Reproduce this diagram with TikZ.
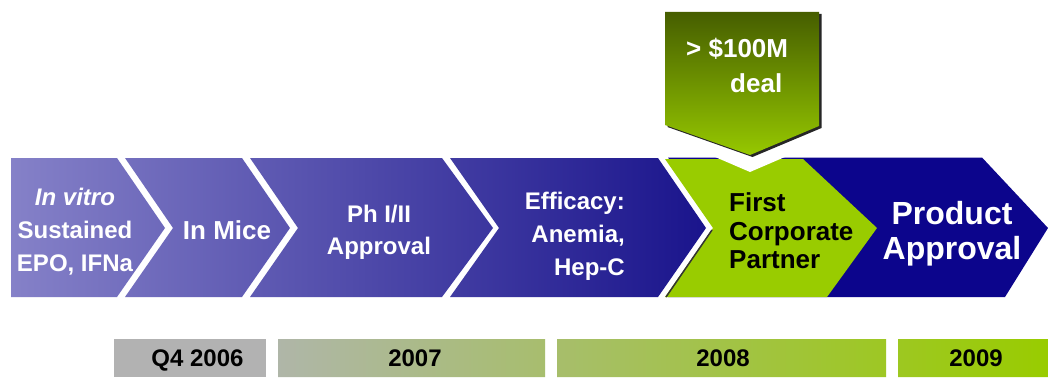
\documentclass[tikz,border=0pt]{standalone}
\usepackage{fontspec}
\setmainfont{Liberation Sans}
\usepackage{xcolor}
\usepackage{tikz}

\definecolor{lavender}{RGB}{133,129,200}
\definecolor{midpurple}{RGB}{100,96,178}
\definecolor{deepblue}{RGB}{26,20,140}
\definecolor{navy}{RGB}{12,5,140}
\definecolor{lime}{RGB}{153,204,0}
\definecolor{olive}{RGB}{70,94,0}
\definecolor{brightolive}{RGB}{150,200,0}
\definecolor{yeargray}{RGB}{178,178,178}
\definecolor{yearsage}{RGB}{175,182,168}
\definecolor{yearmid}{RGB}{165,194,118}

\begin{document}
\begin{tikzpicture}[x=1pt,y=-1pt,
  lbl/.style={inner sep=0pt, text=white, font=\bfseries\fontsize{24}{33}\selectfont},
  yr/.style={inner sep=0pt, anchor=base, font=\bfseries\fontsize{24}{28}\selectfont}]
\useasboundingbox[fill=white] (0,0) rectangle (1048,377);

% last stage, partly under the green one
\fill[navy] (668,157.5) -- (982,157.5) -- (1048,228) -- (1005,297) -- (668,297) -- (714,228) -- cycle;

% the four purple stages, one shading over all of them
\shade[left color=lavender, middle color=midpurple, right color=deepblue]
  (11,158) -- (117,158) -- (165,228) -- (117,297) -- (11,297) -- cycle
  (125,158) -- (242,158) -- (290,228) -- (242,297) -- (125,297) -- (173,228) -- cycle
  (250,158) -- (442,158) -- (493,228) -- (442,297) -- (250,297) -- (298,228) -- cycle
  (450,158) -- (658,158) -- (706,228) -- (658,297) -- (450,297) -- (499,228) -- cycle;

% partner stage
\fill[lime] (665,159) -- (803,159) -- (877,228) -- (827,297) -- (665,297) -- (713,228) -- cycle;
\draw[black!80, line width=1.5pt] (712,230) -- (666,297);
\fill[white] (714,156.5) -- (750,172) -- (786,156.5) -- cycle;

% deal callout
\fill[black!85, shift={(2.5,2)}] (665,12) -- (819,12) -- (819,126) -- (750,155) -- (665,125) -- cycle;
\shade[top color=olive, bottom color=brightolive] (665,12) -- (819,12) -- (819,126) -- (750,155) -- (665,125) -- cycle;

\node[lbl, align=left, anchor=west, font=\bfseries\fontsize{26}{35.5}\selectfont] (deal) at (686,65.3) {> \$100M\\\hspace*{44pt}deal};

% stage labels
\node[lbl, align=center] (vitro) at (75,231.3) {\textit{In vitro}\\Sustained\\EPO, IFNa};
\node[lbl, anchor=base, font=\bfseries\fontsize{26}{30}\selectfont] (mice) at (227,239) {In Mice};
\node[lbl, align=center, font=\bfseries\fontsize{24}{32}\selectfont] (phase) at (379,232) {Ph I/II\\Approval};
\node[lbl, align=right, anchor=east] (efficacy) at (625,236.7) {Efficacy:\\Anemia,\\Hep-C};
\node[lbl, align=left, anchor=west, text=black, font=\bfseries\fontsize{26}{28.5}\selectfont] (partner) at (729,231.2) {First\\Corporate\\Partner};
\node[lbl, align=center, font=\bfseries\fontsize{32}{35}\selectfont] (product) at (952,234.2) {Product\\Approval};

% years
\fill[yeargray] (114,339) rectangle (266,377);
\shade[left color=yearsage, middle color=yearmid, right color=lime]
  (278,339) rectangle (545,377)
  (557,339) rectangle (886,377)
  (898,339) rectangle (1048,377);

\node[yr] (q4) at (197.5,366.7) {Q4 2006};
\node[yr] (y7) at (415,366.7) {2007};
\node[yr] (y8) at (723,366.7) {2008};
\node[yr] (y9) at (976,366.7) {2009};

\end{tikzpicture}
\end{document}
